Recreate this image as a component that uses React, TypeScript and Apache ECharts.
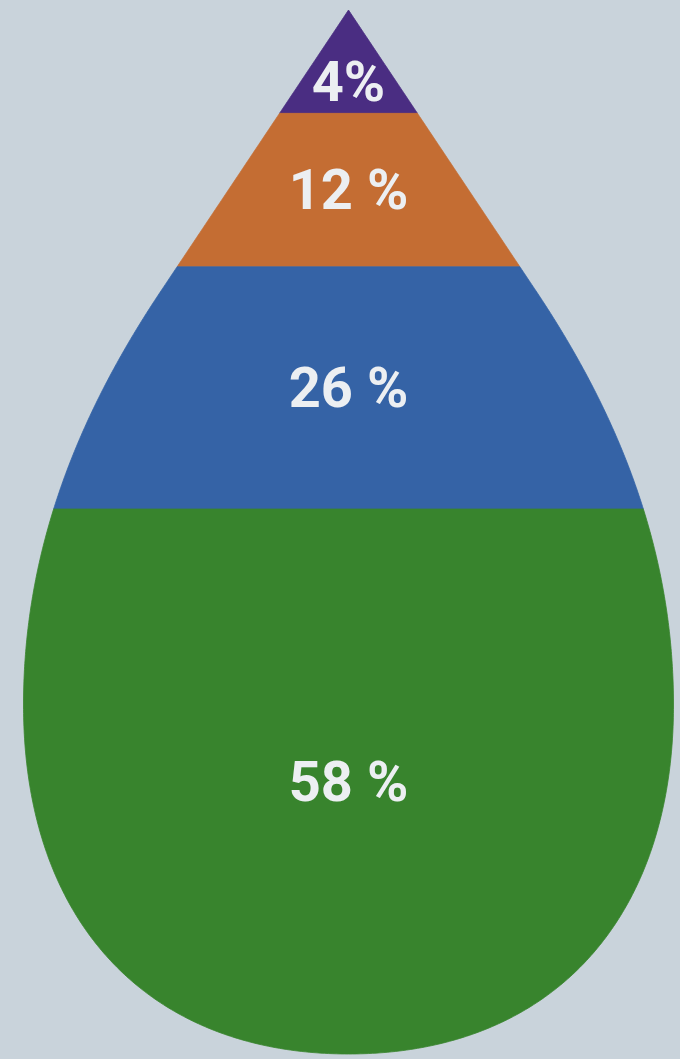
import React, { useEffect, useRef } from "react";
import * as echarts from "echarts";

// Shares shown in the drop (top to bottom)
const shares = [4, 12, 26, 58];
const shareLabels = ["4%", "12 %", "26 %", "58 %"];
// Depth of each band, in % of the drop's height
const bandDepths = [9.9, 14.7, 23.2, 52.2];
const bandColors = ["#4a2d82", "#c46d33", "#3563a6", "#38842d"];

// Right half of the drop outline as cubic Bézier segments
// x: fraction of max half-width, y: % of height from the tip
const outlineSegments: number[][][] = [
  [[0, 0], [0.1917, 8.94], [0.3833, 17.88], [0.575, 26.82]],
  [[0.575, 26.82], [0.843, 39.27], [1, 52.2], [1, 66.57]],
  [[1, 66.57], [1, 87.26], [0.62, 100], [0, 100]],
];

function sampleOutline(): number[][] {
  const pts: number[][] = [];
  outlineSegments.forEach((seg, si) => {
    const steps = 150;
    for (let k = si === 0 ? 0 : 1; k <= steps; k++) {
      const t = k / steps;
      const a = (1 - t) ** 3, b = 3 * (1 - t) ** 2 * t, c = 3 * (1 - t) * t * t, d = t ** 3;
      pts.push([
        a * seg[0][0] + b * seg[1][0] + c * seg[2][0] + d * seg[3][0],
        a * seg[0][1] + b * seg[1][1] + c * seg[2][1] + d * seg[3][1],
      ]);
    }
  });
  return pts;
}
const outline = sampleOutline();

function halfWidthAt(depth: number): number {
  if (depth <= outline[0][1]) return outline[0][0];
  for (let i = 1; i < outline.length; i++) {
    const p0 = outline[i - 1], p1 = outline[i];
    if (depth <= p1[1]) {
      const f = p1[1] === p0[1] ? 0 : (depth - p0[1]) / (p1[1] - p0[1]);
      return p0[0] + f * (p1[0] - p0[0]);
    }
  }
  return outline[outline.length - 1][0];
}

export default function App() {
  const ref = useRef<HTMLDivElement>(null);
  useEffect(() => {
    if (!ref.current) return;
    const chart = echarts.init(ref.current, undefined, { renderer: "svg" });
    let acc = 0;
    const data = bandDepths.map((d, i) => {
      const item = [acc, acc + d, shares[i]];
      acc += d;
      return item;
    });
    chart.setOption({
      animation: false,
      backgroundColor: "#c9d3db",
      grid: { left: 23.5, right: 6.5, top: 10, bottom: 5 },
      xAxis: { type: "value", min: -1, max: 1, show: false },
      yAxis: { type: "value", min: 0, max: 100, inverse: true, show: false },
      series: [
        {
          type: "custom",
          clip: false,
          data,
          renderItem: (params: any, api: any) => {
            const i = params.dataIndex;
            const top = api.value(0);
            const bottom = api.value(1);
            const depths: number[] = [top];
            outline.forEach((p) => {
              if (p[1] > top && p[1] < bottom) depths.push(p[1]);
            });
            depths.push(bottom);
            const right = depths.map((d) => api.coord([halfWidthAt(d), d]));
            const left = depths
              .slice()
              .reverse()
              .map((d) => api.coord([-halfWidthAt(d), d]));
            const points = right.concat(left);
            const ly = halfWidthAt(top) < 0.01 ? top + 0.7 * (bottom - top) : (top + bottom) / 2;
            const lp = api.coord([0, ly]);
            return {
              type: "group",
              children: [
                {
                  type: "polygon",
                  shape: { points },
                  style: { fill: bandColors[i], stroke: bandColors[i], lineWidth: 0.8 },
                },
                {
                  type: "text",
                  x: lp[0],
                  y: lp[1],
                  style: {
                    text: shareLabels[i],
                    x: 0,
                    y: 0,
                    align: "center",
                    verticalAlign: "middle",
                    fill: "#eceff2",
                    fontFamily: "Roboto",
                    fontWeight: "bold",
                    fontSize: 56,
                  },
                },
              ],
            };
          },
        },
      ],
    });
    return () => chart.dispose();
  }, []);
  return (
    <div
      ref={ref}
      style={{ position: "fixed", left: 0, top: 0, width: 680, height: 1059, background: "#c9d3db" }}
    />
  );
}
